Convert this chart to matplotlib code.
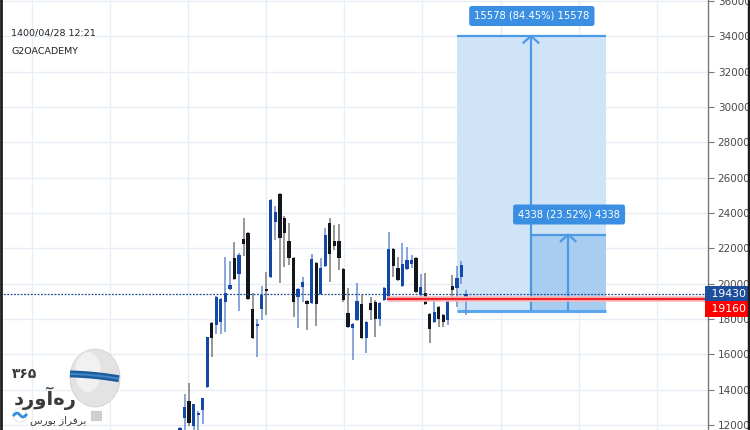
import numpy as np
import matplotlib
matplotlib.use("Agg")
import matplotlib.pyplot as plt
import matplotlib.transforms as mtransforms
from matplotlib.patches import Rectangle, Ellipse

# ---- candles (one per bar, oldest first) ----
opens = [11150, 12400, 13360, 11950, 12570, 12850, 14150, 17780, 17660, 17830,
         18960, 19700, 21450, 20550, 22530, 22870, 18570, 17610, 18570, 19700,
         20380, 23490, 25080, 23720, 22420, 21450, 19250, 19810, 19020, 18910,
         21170, 19420, 21000, 23440, 22420, 22420, 20830, 18340, 17490, 17950,
         18850, 16930, 18910, 18960, 18000, 19080, 19080, 21960, 20890, 19870,
         20830, 21110, 21450, 19360, 19470, 18280, 17830, 18680, 18230, 17950,
         19870, 19760, 20380, 19130]
highs = [11900, 13760, 14380, 13190, 12790, 13530, 17000, 17850, 19300, 19190,
         21510, 21280, 22360, 21740, 23720, 22930, 19470, 18000, 19870, 20660,
         24790, 24400, 25130, 23830, 23440, 21510, 19760, 20380, 19080, 21680,
         21230, 21450, 23150, 23720, 23320, 23380, 20890, 19760, 17780, 20040,
         19360, 17890, 19250, 19080, 18960, 19810, 22930, 22020, 21510, 22300,
         22080, 21620, 21510, 20550, 20600, 18340, 19080, 18740, 18280, 19190,
         20490, 21000, 21280, 19640]
lows = [11100, 11600, 11950, 11600, 11600, 12060, 14100, 15850, 17150, 17150,
        17270, 19640, 20210, 18450, 21570, 19080, 16870, 15850, 17950, 18230,
        20320, 22470, 20040, 20940, 21060, 18120, 17490, 18960, 17380, 18850,
        17610, 19360, 20940, 20100, 21910, 20770, 18960, 17490, 15680, 17890,
        16870, 16080, 17950, 16980, 17610, 19020, 19020, 20380, 20150, 19810,
        20770, 20890, 19470, 19080, 18800, 16640, 17780, 17550, 17550, 17660,
        19130, 18680, 19980, 18230]
closes = [11830, 13020, 12120, 13190, 12680, 13530, 16980, 16930, 19250, 19130,
          19470, 19930, 20270, 21620, 22250, 19130, 16930, 17720, 19360, 19590,
          24740, 24060, 22590, 22870, 21450, 18960, 19700, 20100, 18850, 21400,
          18850, 20890, 22760, 21680, 22130, 21450, 19080, 17550, 17720, 19020,
          16930, 17830, 18510, 18000, 18910, 19760, 21960, 21000, 20210, 21110,
          21340, 21340, 19530, 19810, 18850, 17440, 18400, 18000, 17830, 19130,
          19640, 20320, 21060, 19430]

yticks = list(range(12000, 36001, 2000))
last_price = 19430
line_price = 19160
entry_price = 18446
target_far = 34024
target_near = 22782
far_label = "15578 (84.45%) 15578"
near_label = "4338 (23.52%) 4338"
stamp = "1400/04/28 12:21"
author = "G2OACADEMY"

W, H = 750, 430
AX_RIGHT = 708          # pixel where the price scale starts
STEP = 4.54             # pixels per bar
X0 = 180                # pixel of first bar
PPX = 56.6              # price per pixel

fig = plt.figure(figsize=(W / 100, H / 100), dpi=100)
fig.patch.set_facecolor("white")
ax = fig.add_axes([0, 0, AX_RIGHT / W, 1])
xmin, xmax = -X0 / STEP, (AX_RIGHT - X0) / STEP
ax.set_xlim(xmin, xmax)
ax.set_ylim(36057 - PPX * H, 36057)

# grid
for y in yticks:
    ax.axhline(y, color="#e8eef5", lw=1, zorder=0)
for k in range(9):
    ax.axvline(-32.6 + 17.2 * k, color="#e8eef5", lw=1, zorder=0)

# position tool (long)
i_left, i_mid, i_arrow, i_right = 61.0, 77.3, 85.5, 93.8
ax.add_patch(Rectangle((i_left, entry_price), i_right - i_left, target_far - entry_price,
                       fc="#d0e4f8", ec="none", zorder=1))
ax.add_patch(Rectangle((i_mid, entry_price), i_right - i_mid, target_near - entry_price,
                       fc="#a9cdf1", ec="none", zorder=1))
lc = "#4a9ae6"
ax.hlines(target_far, i_left, i_right, color=lc, lw=1.6, zorder=2)
ax.hlines(target_near, i_mid, i_right, color=lc, lw=1.6, zorder=2)
ax.hlines(entry_price, i_left, i_right, color="#5aa7ee", lw=2.2, zorder=2)
ax.vlines(i_mid, entry_price, target_far, color=lc, lw=1.6, zorder=2)
ax.vlines(i_arrow, entry_price, target_near, color=lc, lw=1.6, zorder=2)
for xa, ya in [(i_mid, target_far), (i_arrow, target_near)]:
    ax.plot([xa - 1.8, xa, xa + 1.8], [ya - 420, ya, ya - 420], color=lc, lw=1.6,
            zorder=2, solid_capstyle="butt")

lbl = dict(ha="center", va="center", color="white", fontsize=7.2, zorder=6,
           bbox=dict(boxstyle="round,pad=0.5,rounding_size=0.25", fc="#3a8fe3", ec="none"))
ax.text(i_mid + 0.2, 36057 - PPX * 16, far_label, **lbl)
ax.text(i_arrow + 0.2, 36057 - PPX * 214.5, near_label, **lbl)

# candles
o, h, l, c = (np.array(a, dtype=float) for a in (opens, highs, lows, closes))
idx = np.arange(len(o))
up = c >= o
bot = np.minimum(o, c)
hgt = np.maximum(np.abs(c - o), 90)
ax.vlines(idx[up], l[up], h[up], color="#6a8dd0", lw=1.1, zorder=3)
ax.vlines(idx[~up], l[~up], h[~up], color="#7a7a7a", lw=1.1, zorder=3)
ax.bar(idx[up], hgt[up], 0.72, bot[up], color="#1448a6", zorder=4)
ax.bar(idx[~up], hgt[~up], 0.72, bot[~up], color="#14161e", zorder=4)

# horizontal lines
ax.axhline(last_price, color="#1e4f9c", lw=0.9, ls=(0, (1.5, 1.2)), zorder=5)
ax.hlines(line_price, 45.6, xmax, color="#f8b9b9", lw=4, zorder=4)
ax.hlines(line_price, 45.6, xmax, color="#f0202a", lw=1.6, zorder=5)

# price scale
ax.yaxis.tick_right()
ax.set_yticks(yticks)
ax.set_yticklabels([str(t) for t in yticks])
ax.set_xticks([])
ax.tick_params(axis="y", direction="out", length=4, width=0.8, color="#777777",
               labelsize=7.5, labelcolor="#4a4a4a", pad=3)
for s in ["top", "left", "bottom"]:
    ax.spines[s].set_visible(False)
ax.spines["right"].set_color("#7a7a7a")
ax.spines["right"].set_linewidth(1)

tr = mtransforms.blended_transform_factory(ax.transAxes, ax.transData)
tag = dict(transform=tr, ha="left", va="center", color="white", fontsize=7.8,
           clip_on=False, zorder=7)
ax.text(1.0, last_price, " 19430 ", bbox=dict(boxstyle="square,pad=0.28", fc="#1e4f9c", ec="none"), **tag)
ax.text(1.0, last_price - 15 * PPX, " 19160 ", bbox=dict(boxstyle="square,pad=0.28", fc="#ff0000", ec="none"), **tag)

# overlay: borders, header text, logo
ov = fig.add_axes([0, 0, 1, 1], zorder=10)
ov.set_xlim(0, W)
ov.set_ylim(H, 0)
ov.axis("off")
ov.patch.set_alpha(0)
ov.plot([1, 1], [0, H], color="#1e1e1e", lw=2)
ov.plot([749, 749], [0, H], color="#1e1e1e", lw=2.5)
ov.text(11, 33, stamp, fontsize=6.8, color="#222222", va="center")
ov.text(11, 51, author, fontsize=6.8, color="#222222", va="center")

ov.add_patch(Ellipse((95, 378), 50, 58, fc="#e3e3e3", ec="#d2d2d2", lw=0.6))
ov.add_patch(Ellipse((88, 372), 26, 40, fc="#f1f1f1", ec="none"))
bx = np.linspace(70, 119, 40)
by = 373 + 0.1 * (bx - 70) + 0.0015 * (bx - 95) ** 2
ov.plot(bx, by, color="#1c5b9c", lw=5, solid_capstyle="butt")
ov.plot(bx, by, color="#3f84c4", lw=1.5, solid_capstyle="butt")
ov.add_patch(Rectangle((91, 411), 10, 9, fc="#cfcfcf", ec="#bdbdbd", lw=0.5))
ov.text(12, 374, "\u06f3\u06f6\u06f5", fontsize=10, weight="bold", color="#3a3a3a",
        va="center", family=["DejaVu Sans"])
ov.text(14, 398, "\ufea9\ufead\ufeed\ufe81\ufee9\ufead", fontsize=14, weight="bold",
        color="#3a3a3a", va="center", family=["DejaVu Sans"])
ov.add_patch(Ellipse((20, 415), 14, 14, fc="white", ec="#dddddd", lw=0.6))
wx = np.linspace(14, 26, 20)
ov.plot(wx, 415 - 2 * np.sin((wx - 14) / 12 * 2 * np.pi), color="#2f8ee0", lw=2)
ov.text(30, 420, "\ufeb1\ufead\ufeee\ufe91 \ufeaf\ufe8d\ufeae\ufed3\ufeae\ufe91", fontsize=7.5,
        color="#3a3a3a", va="center", family=["DejaVu Sans"])

fig.savefig("out.png", dpi=100)
